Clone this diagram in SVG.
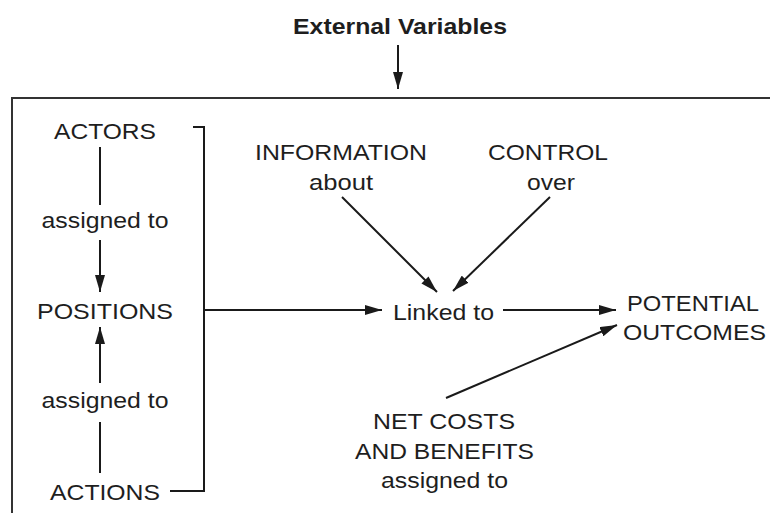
<svg xmlns="http://www.w3.org/2000/svg" width="770" height="513" viewBox="0 0 770 513">
<style>
text{font-family:"Liberation Sans",Arial,sans-serif;font-size:22px;fill:#1e1e1e;text-anchor:middle}
.b{font-weight:bold}
.ln{stroke:#1a1a1a;stroke-width:2;fill:none}
.ar{marker-end:url(#ah)}
</style>
<defs>
<marker id="ah" markerUnits="userSpaceOnUse" markerWidth="17" markerHeight="10" refX="17" refY="5" orient="auto">
<path d="M0,0 L17,5 L0,10 z" fill="#1a1a1a"/>
</marker>
</defs>
<rect width="770" height="513" fill="#fff"/>
<g id="frame">
<path class="ln" d="M770,98 H12 V513" stroke-width="2.5" style="stroke:#333"/>
</g>
<g id="external"><text class="b" x="400" y="34" textLength="214" lengthAdjust="spacingAndGlyphs">External Variables</text></g>
<g id="actors"><text x="105" y="139" textLength="102" lengthAdjust="spacingAndGlyphs">ACTORS</text></g>
<g id="assigned1"><text x="105" y="228" textLength="127" lengthAdjust="spacingAndGlyphs">assigned to</text></g>
<g id="positions"><text x="105" y="319" textLength="136" lengthAdjust="spacingAndGlyphs">POSITIONS</text></g>
<g id="assigned2"><text x="105" y="408" textLength="127" lengthAdjust="spacingAndGlyphs">assigned to</text></g>
<g id="actions"><text x="105" y="500" textLength="110" lengthAdjust="spacingAndGlyphs">ACTIONS</text></g>
<g id="information"><text x="341" y="160" textLength="172" lengthAdjust="spacingAndGlyphs">INFORMATION</text><text x="341" y="190" textLength="64" lengthAdjust="spacingAndGlyphs">about</text></g>
<g id="control"><text x="548" y="160" textLength="120" lengthAdjust="spacingAndGlyphs">CONTROL</text><text x="551" y="190" textLength="48" lengthAdjust="spacingAndGlyphs">over</text></g>
<g id="linked"><text x="443.5" y="320" textLength="101" lengthAdjust="spacingAndGlyphs">Linked to</text></g>
<g id="outcomes"><text x="693" y="311" textLength="132" lengthAdjust="spacingAndGlyphs">POTENTIAL</text><text x="694.5" y="340" textLength="143" lengthAdjust="spacingAndGlyphs">OUTCOMES</text></g>
<g id="netcosts"><text x="444" y="429" textLength="142" lengthAdjust="spacingAndGlyphs">NET COSTS</text><text x="444.5" y="459" textLength="179" lengthAdjust="spacingAndGlyphs">AND BENEFITS</text><text x="444.5" y="488" textLength="127" lengthAdjust="spacingAndGlyphs">assigned to</text></g>
<g id="connectors">
<line class="ln ar" x1="398" y1="45" x2="398" y2="89"/>
<line class="ln" x1="100" y1="147" x2="100" y2="205"/>
<line class="ln ar" x1="100" y1="240" x2="100" y2="292"/>
<line class="ln ar" x1="100" y1="383" x2="100" y2="327"/>
<line class="ln" x1="100" y1="422" x2="100" y2="473"/>
<path class="ln" d="M193,127 H204 V491 H170"/>
<line class="ln ar" x1="204" y1="310" x2="382" y2="310"/>
<line class="ln ar" x1="342" y1="197" x2="437" y2="292"/>
<line class="ln ar" x1="550" y1="197" x2="453" y2="291"/>
<line class="ln ar" x1="503" y1="310" x2="616" y2="310"/>
<line class="ln ar" x1="446" y1="398" x2="617" y2="325"/>
</g>
</svg>
